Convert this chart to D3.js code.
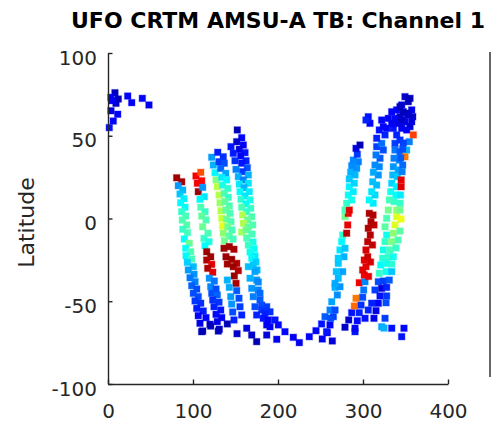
<!DOCTYPE html>
<html><head><meta charset="utf-8">
<script src="https://cdn.jsdelivr.net/npm/d3@7"></script>
<style>body{margin:0;background:#fff} svg{display:block}</style>
</head><body>
<svg id="c" width="491" height="425"></svg>
<script>
// ---- data: [longitude, latitude, brightness temperature (K)] ----
const xTicks = [0, 100, 200, 300, 400];
const yTicks = [-100, -50, 0, 50, 100];
const titleText = "UFO CRTM AMSU-A TB: Channel 1";
const yLabelText = "Latitude";
const tbRange = [150, 290];

const swathNorth = [[8.2,76.0,158],[3.5,73.2,167],[12.1,72.2,158],[9.4,69.6,160],[4.7,71.2,166],[3.5,65.1,163],[11.4,63.0,167],[6.2,58.9,168],[1.5,54.9,170],[23.2,74.0,167],[27.9,70.0,166],[40.4,72.6,168],[48.2,68.6,165]];

const stripL1 = [[80.8,24.6,286],[86.7,22.2,285],[82.7,19.8,188],[87.9,17.2,192],[84.7,14.8,195],[89.4,12.0,200],[85.5,9.5,202],[90.6,6.8,203],[86.7,4.1,209],[91.4,1.5,212],[87.4,-0.9,213],[92.6,-3.9,214],[88.0,-6.5,210],[93.5,-8.5,212],[89.8,-12.4,203],[95.6,-15.0,217],[91.4,-18.0,203],[97.3,-20.1,213],[91.8,-22.5,202],[98.5,-24.5,212],[93.3,-26.5,196],[100.4,-29.1,193],[94.5,-31.1,189],[101.2,-33.7,188],[96.5,-35.8,184],[102.4,-38.2,185],[98.5,-40.6,181],[104.4,-42.6,178],[100.4,-45.2,178],[106.2,-47.2,178],[102.4,-49.8,175],[109.1,-51.2,174],[104.4,-54.3,171],[112.1,-55.9,171],[106.2,-58.7,168],[115.3,-59.9,168],[108.2,-63.3,164],[120.0,-63.9,161],[111.4,-68.0,158]];

const stripL2 = [[103.5,25.7,274],[109.1,27.9,262],[110.2,22.8,272],[105.1,21.3,274],[106.2,16.2,286],[111.4,18.8,188],[113.3,13.2,199],[108.2,11.6,202],[109.1,6.8,213],[114.1,4.1,210],[110.2,1.5,216],[115.3,-0.9,213],[111.4,-5.0,217],[117.6,-8.9,213],[112.9,-12.0,210],[118.8,-14.0,206],[114.1,-16.4,203],[116.1,-20.1,286],[120.8,-23.1,286],[116.1,-25.1,284],[122.0,-27.7,276],[117.3,-30.1,284],[123.2,-32.5,276],[119.2,-36.1,188],[125.1,-37.8,184],[120.8,-41.2,186],[127.1,-42.6,178],[122.0,-45.2,178],[128.6,-46.2,181],[123.2,-49.2,174],[130.6,-50.6,175],[124.7,-53.3,172],[132.6,-55.3,170],[127.1,-57.9,168],[133.8,-59.9,167],[128.6,-62.3,164],[130.9,-66.9,160]];

const stripL3 = [[122.0,37.0,189],[129.1,40.0,171],[135.6,37.3,174],[123.9,32.3,192],[130.6,34.3,175],[136.8,33.4,178],[125.9,27.7,202],[132.6,30.3,181],[138.5,27.3,190],[127.1,23.3,220],[133.8,24.9,200],[139.6,23.3,202],[128.6,19.2,228],[134.9,20.2,206],[140.8,18.2,209],[130.6,14.2,227],[136.8,15.2,213],[141.5,12.8,210],[131.8,9.5,224],[137.6,10.2,216],[142.7,7.6,213],[132.9,4.7,227],[138.8,5.1,216],[143.5,3.1,213],[133.8,0.1,230],[139.6,-0.5,217],[144.7,-1.9,213],[134.9,-4.5,234],[140.8,-5.0,218],[145.9,-6.9,212],[135.6,-8.9,222],[142.7,-10.6,215],[147.1,-12.4,212],[137.0,-13.5,218],[136.5,-18.0,286],[142.7,-17.0,286],[148.2,-18.6,284],[138.8,-23.1,286],[145.5,-24.7,287],[151.4,-27.1,283],[140.4,-27.5,285],[147.4,-29.1,286],[153.3,-31.5,283],[148.6,-34.7,287],[150.6,-39.2,284],[140.4,-37.2,192],[142.7,-41.6,191],[151.4,-43.6,180],[144.4,-47.2,189],[154.1,-48.2,178],[145.5,-51.7,188],[155.3,-53.3,176],[146.7,-56.5,178],[157.3,-58.3,172],[148.2,-61.3,172],[140.4,-63.7,158],[120.8,-65.0,158]];

const stripL4 = [[152.1,53.5,158],[157.3,48.8,168],[151.4,46.4,160],[159.2,44.4,167],[144.7,43.4,170],[154.5,41.8,163],[147.4,39.4,171],[161.2,39.8,170],[156.1,37.8,167],[149.4,34.9,174],[162.4,34.9,172],[157.3,33.4,170],[150.6,29.7,185],[163.9,30.7,178],[158.5,28.3,175],[153.3,25.3,192],[165.1,26.3,192],[159.2,23.3,185],[154.5,20.8,200],[165.1,21.3,199],[160.0,18.6,192],[155.3,16.2,203],[166.2,16.2,200],[161.2,13.6,199],[156.5,11.6,209],[167.1,11.2,206],[162.4,8.8,203],[157.3,6.8,213],[167.9,6.2,210],[163.2,4.1,209],[158.5,2.1,227],[169.1,1.1,213],[164.4,-0.9,216],[159.2,-2.9,227],[170.2,-3.9,213],[165.1,-5.3,215],
[157.3,-8.2,225],[162.4,-6.9,217],[169.4,-9.4,212],[163.2,-11.8,213],[170.6,-14.2,206],[165.1,-16.0,210],[171.8,-18.4,203],[167.1,-20.2,205],[172.9,-22.7,200],[169.1,-24.0,202],[174.1,-26.3,196],[165.1,-29.1,194],[170.9,-28.1,195],[175.3,-31.1,192],[172.9,-32.1,190],[167.1,-36.1,192],[174.9,-37.2,188],[176.8,-38.4,186],[169.1,-42.2,188],[176.8,-43.2,186],[178.8,-45.2,182],[170.9,-47.2,185],[178.8,-49.2,180],[180.8,-52.3,178],[172.9,-53.3,178],[186.7,-53.3,176],[180.8,-55.3,175],[190.6,-56.4,174],[184.7,-57.3,172],[174.9,-58.3,172],[182.7,-60.3,170],[188.6,-61.3,168],[196.5,-61.3,170],[186.7,-64.3,166],[190.6,-65.4,166],[200.4,-64.3,168]];

const stripSouth = [[110.2,-68.4,158],[129.8,-68.0,158],[151.8,-69.6,160],[163.2,-66.3,163],[169.1,-70.4,160],[174.9,-74.4,157],[186.7,-70.4,162],[198.5,-73.0,165],[208.2,-68.4,168],[218.0,-71.8,166],[225.1,-75.0,165],[236.8,-71.4,167],[244.7,-67.8,168],[252.1,-72.8,165],[258.0,-69.0,166],[263.9,-74.0,162],[290.6,-68.4,170],[278.8,-65.7,160],[333.8,-66.3,170],[348.2,-66.3,168],[345.5,-71.4,170]];

const stripR1 = [[251.3,-63.7,170],[261.2,-64.3,168],[255.3,-59.3,180],[265.1,-59.3,176],[261.2,-55.3,185],[267.1,-55.3,178],[263.2,-50.3,190],[269.8,-46.2,187],[267.1,-41.6,192],[272.9,-41.2,188],[270.9,-36.1,193],[276.1,-32.1,190],[270.9,-27.1,195],[277.6,-23.1,192],[272.9,-19.0,199],[278.8,-18.0,195],[274.9,-14.0,202],[276.1,-10.0,208],[280.8,-8.9,282],[282.0,-3.9,276],[278.8,1.1,218],[282.7,3.1,275],[278.8,5.1,212],[283.9,5.1,276],[280.8,9.2,210],[286.7,11.2,205],[282.7,14.2,203],[288.6,16.2,200],[283.9,19.2,201],[289.8,21.3,197],[283.9,23.9,195],[290.6,26.3,193],[285.5,27.9,192],[292.6,30.3,188],[286.7,31.9,187],[294.5,34.3,185],[288.6,35.3,186],[293.3,38.8,175],[291.8,42.4,164],[296.5,44.4,158],[267.1,-39.2,191],[268.6,-32.1,194],[270.9,-24.0,196],[261.9,-60.3,178],[257.2,-68.4,170]];

const stripR2 = [[290.6,-66.3,166],[283.2,-61.3,160],[293.3,-61.8,168],[286.7,-56.9,170],[295.6,-56.9,172],[289.8,-52.9,258],[297.7,-52.3,174],[291.8,-48.2,256],[299.6,-47.6,178],[300.8,-43.2,184],[295.6,-38.8,275],[302.3,-38.2,186],[301.5,-34.1,274],[299.6,-31.1,277],[303.5,-29.1,276],[301.5,-25.1,276],[305.5,-23.1,280],[303.5,-19.0,278],[305.5,-14.0,282],[308.6,-10.0,283],[306.2,-5.9,283],[309.4,-1.9,284],[307.4,3.1,284],[311.8,2.1,283],[312.9,-3.9,282],[311.1,-16.0,281],[308.8,-26.3,278],[306.5,-35.0,276],[312.0,9.2,200],[307.3,11.2,202],[314.1,14.2,197],[310.2,16.2,199],[316.1,20.2,193],[311.4,22.2,194],[318.0,26.3,188],[312.2,27.9,191],[319.2,31.3,186],[314.1,32.3,187],[320.0,36.4,180],[315.3,38.4,184],[323.9,41.4,178],[316.1,43.4,176],[322.0,45.4,183],[316.1,48.5,172],[325.9,50.5,172],[319.2,53.5,170],[323.9,55.5,168],[322.0,59.5,168],[329.8,60.5,166],[306.2,61.5,170],[308.2,57.5,168],[303.5,59.5,172]];

const stripR3 = [[329.8,5.1,218],[339.6,5.1,222],[331.0,11.2,212],[336.5,10.2,210],[332.6,16.2,205],[338.8,14.2,203],[333.8,21.3,197],[339.6,19.2,200],[335.0,26.3,193],[340.4,25.3,195],[335.7,31.3,188],[341.5,29.3,190],[336.5,36.4,185],[342.7,35.3,186],[337.6,41.4,184],[343.5,40.4,180],[337.6,45.4,176],[343.5,47.4,174],[339.6,50.5,172],[335.7,54.5,170],[345.5,54.5,166],[341.5,57.5,164],[337.6,60.5,168],[347.9,58.5,163],[333.8,64.5,168],[339.6,65.6,167],[345.5,68.6,164],[343.5,61.5,162],
[327.8,0.1,213],[339.6,1.1,232],[344.7,-0.3,235],[325.9,-5.0,215],[337.6,-3.9,233],[327.8,-10.0,205],[335.7,-8.9,222],[343.5,-7.6,215],[325.9,-14.0,210],[333.8,-14.0,220],[341.2,-13.0,213],[323.9,-19.0,205],[331.8,-19.0,212],[338.8,-17.8,210],[323.1,-24.0,208],[329.8,-23.1,210],[335.7,-23.1,205],[320.8,-28.1,203],[327.8,-27.1,205],[333.8,-27.5,208],[319.2,-33.1,210],[327.1,-32.1,205],[333.8,-32.1,195],
[318.0,-38.2,178],[323.9,-37.8,176],[330.9,-37.2,180],[314.1,-43.2,176],[321.9,-42.2,163],[327.8,-41.6,172],[320.0,-46.8,170],[327.8,-46.8,175],[310.2,-51.2,172],[318.0,-51.2,168],[327.1,-50.9,178],[306.2,-55.3,172],[315.3,-55.7,164],[302.4,-60.3,170],[312.9,-60.3,164],[325.9,-60.3,176],[322.0,-65.4,190],[324.7,-66.2,192]];

const stripR4 = [[349.4,73.6,160],[353.3,70.6,157],[357.3,65.6,165],[351.4,63.6,158],[358.5,61.5,160],[349.4,58.5,166],[355.3,55.5,162],[351.4,53.5,167],[359.2,50.5,264],[354.5,46.4,185],[347.4,45.6,176],[351.4,41.4,192],[346.7,42.0,178],[349.4,37.3,256],[344.3,36.6,180],[346.7,32.3,182],[346.0,28.3,185],[344.9,23.3,276],[344.9,19.2,277],[344.1,14.2,200],[343.7,9.2,210],[343.5,5.1,218],[355.3,72.6,158],[343.5,67.6,160],[347.4,64.5,158],[353.3,62.5,160],[357.3,58.5,163],[345.5,59.5,160],[327.8,54.5,168],[333.8,57.5,166]];

const strips = [swathNorth, stripL1, stripL2, stripL3, stripL4, stripSouth, stripR1, stripR2, stripR3, stripR4];
const points = strips.flat();

// ---- drawing ----
const svg = d3.select("#c");
const axisColor = "#262626";
const FONT = "'DejaVu Sans',sans-serif";

const x = d3.scaleLinear().domain([0, 400]).range([108, 448]);
const y = d3.scaleLinear().domain([-100, 100]).range([384, 53]);

const jetStops = [0, 0.125, 0.375, 0.625, 0.875, 1];
const color = d3.scaleLinear()
  .domain(jetStops.map(t => tbRange[0] + t * (tbRange[1] - tbRange[0])))
  .range(["#000080", "#0000ff", "#00ffff", "#ffff00", "#ff0000", "#800000"])
  .clamp(true);

const ms = 6.5;
svg.append("g").selectAll("rect").data(points).join("rect")
  .attr("x", d => x(d[0]) - ms / 2)
  .attr("y", d => y(d[1]) - ms / 2)
  .attr("width", ms).attr("height", ms)
  .attr("fill", d => color(d[2]))
  .attr("stroke", d => color(d[2]))
  .attr("stroke-opacity", 0.3)
  .attr("stroke-width", 1.2);

const fmt = d => String(d);
const gx = svg.append("g").attr("transform", `translate(0,${y(-100)})`)
  .call(d3.axisBottom(x).tickValues(xTicks).tickFormat(fmt).tickSizeInner(-4.5).tickSizeOuter(0).tickPadding(20));
const gy = svg.append("g").attr("transform", `translate(${x(0)},0)`)
  .call(d3.axisLeft(y).tickValues(yTicks).tickFormat(fmt).tickSizeInner(-4.5).tickSizeOuter(0).tickPadding(11));

[gx, gy].forEach(g => {
  g.select(".domain").attr("stroke", axisColor).attr("stroke-width", 1.4);
  g.selectAll(".tick line").attr("stroke", axisColor).attr("stroke-width", 1.4);
  g.selectAll(".tick text").attr("fill", axisColor)
    .style("font-family", FONT).style("font-size", "20px");
});
gy.selectAll(".tick text").attr("dy", "0.55em");

// colorbar edge at right
svg.append("line").attr("x1", 490).attr("x2", 490).attr("y1", 52).attr("y2", 377)
  .attr("stroke", axisColor).attr("stroke-width", 1.4);

svg.append("text").attr("x", (x(0) + x(400)) / 2).attr("y", 28)
  .attr("text-anchor", "middle").style("font-family", FONT)
  .style("font-size", "22px").style("font-weight", "bold").attr("fill", "#000")
  .text(titleText);

svg.append("text").attr("transform", `translate(34,${(y(-100) + y(100)) / 2 + 4}) rotate(-90)`)
  .attr("text-anchor", "middle").style("font-family", FONT)
  .style("font-size", "22px").attr("fill", axisColor)
  .text(yLabelText);
</script>
</body></html>
